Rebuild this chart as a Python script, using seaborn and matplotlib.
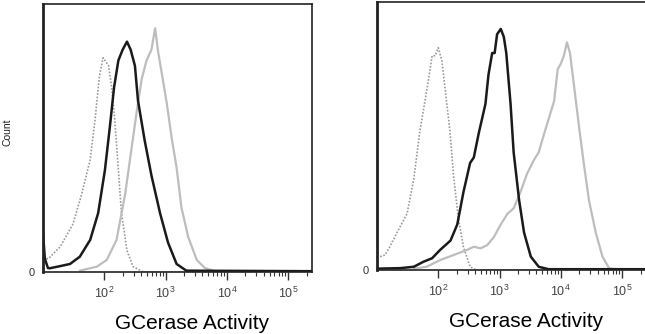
import numpy as np
import seaborn as sns
import matplotlib.pyplot as plt
from matplotlib.ticker import FixedLocator, NullFormatter

sns.set_style("white")
plt.rcParams["font.family"] = ["Liberation Sans", "DejaVu Sans"]
plt.rcParams["mathtext.default"] = "regular"

# histogram traces, x = log10(GCerase activity), y = fraction of axis height
left_ctrl_x = [1.00, 1.09, 1.28, 1.49, 1.63, 1.77, 1.85, 1.92, 1.98, 2.07, 2.12, 2.17, 2.23, 2.28, 2.37, 2.47, 2.64, 5.40]
left_ctrl_y = [0.05, 0.05, 0.094, 0.18, 0.29, 0.42, 0.57, 0.73, 0.80, 0.77, 0.69, 0.57, 0.38, 0.22, 0.08, 0.02, 0.0, 0.0]

left_dark_x = [1.00, 1.03, 1.08, 1.11, 1.28, 1.44, 1.60, 1.77, 1.90, 2.01, 2.09, 2.16, 2.23, 2.30, 2.37, 2.43, 2.50,
               2.55, 2.66, 2.77, 2.91, 3.04, 3.18, 3.34, 5.40]
left_dark_y = [0.145, 0.05, 0.015, 0.014, 0.022, 0.03, 0.057, 0.12, 0.22, 0.38, 0.54, 0.69, 0.79, 0.83, 0.86, 0.83, 0.77,
               0.64, 0.49, 0.36, 0.22, 0.11, 0.03, 0.005, 0.003]

left_light_x = [1.60, 1.88, 2.04, 2.20, 2.34, 2.45, 2.53, 2.61, 2.69, 2.77, 2.83, 2.88, 2.94, 3.02, 3.10, 3.18, 3.26,
                3.37, 3.51, 3.64, 3.80, 5.40]
left_light_y = [0.005, 0.02, 0.045, 0.12, 0.29, 0.47, 0.60, 0.72, 0.79, 0.83, 0.91, 0.82, 0.74, 0.63, 0.50, 0.39, 0.24,
                0.13, 0.045, 0.015, 0.003, 0.003]

right_ctrl_x = [1.05, 1.13, 1.21, 1.32, 1.49, 1.60, 1.70, 1.76, 1.84, 1.90, 1.95, 2.00, 2.06, 2.11, 2.19, 2.25, 2.33,
                2.41, 2.52, 2.62, 5.40]
right_ctrl_y = [0.05, 0.056, 0.087, 0.137, 0.21, 0.34, 0.52, 0.60, 0.71, 0.80, 0.80, 0.83, 0.78, 0.68, 0.52, 0.35, 0.19,
                0.087, 0.012, 0.0, 0.0]

right_dark_x = [1.00, 1.38, 1.60, 1.76, 1.90, 2.03, 2.20, 2.31, 2.41, 2.52, 2.58, 2.66, 2.77, 2.82, 2.88, 2.92, 2.96,
                3.02, 3.07, 3.11, 3.18, 3.23, 3.32, 3.40, 3.51, 3.64, 3.80, 5.40]
right_dark_y = [0.005, 0.007, 0.012, 0.031, 0.044, 0.075, 0.11, 0.17, 0.29, 0.40, 0.42, 0.51, 0.62, 0.73, 0.81, 0.81,
                0.88, 0.90, 0.87, 0.81, 0.62, 0.44, 0.26, 0.14, 0.05, 0.012, 0.003, 0.003]

right_light_x = [1.60, 1.81, 2.03, 2.25, 2.47, 2.58, 2.69, 2.80, 2.91, 3.02, 3.13, 3.23, 3.34, 3.45, 3.56, 3.64, 3.73,
                 3.81, 3.89, 3.95, 4.00, 4.05, 4.10, 4.15, 4.22, 4.30, 4.38, 4.46, 4.57, 4.68, 4.79, 4.95, 5.40]
right_light_y = [0.005, 0.012, 0.037, 0.056, 0.075, 0.087, 0.081, 0.093, 0.124, 0.17, 0.21, 0.23, 0.29, 0.36, 0.41,
                 0.44, 0.51, 0.57, 0.63, 0.75, 0.77, 0.80, 0.85, 0.81, 0.68, 0.53, 0.39, 0.26, 0.14, 0.05, 0.006,
                 0.002, 0.002]

major_exp = [2, 3, 4, 5]
tick_labels = ["10$^2$", "10$^3$", "10$^4$", "10$^5$"]
x_label = "GCerase Activity"

panels = [
    ([0.0667, 0.1856, 0.417, 0.802], (left_ctrl_x, left_ctrl_y), (left_dark_x, left_dark_y),
     (left_light_x, left_light_y), True),
    ([0.5845, 0.1916, 0.417, 0.802], (right_ctrl_x, right_ctrl_y), (right_dark_x, right_dark_y),
     (right_light_x, right_light_y), False),
]

fig = plt.figure(figsize=(6.45, 3.34), dpi=100)

for rect, ctrl, dark, light, show_count in panels:
    ax = fig.add_axes(rect)
    sns.lineplot(x=10 ** np.array(ctrl[0]), y=ctrl[1], ax=ax, color="#9a9a9a", lw=1.2,
                 linestyle=(0, (1, 1)), estimator=None)
    sns.lineplot(x=10 ** np.array(light[0]), y=light[1], ax=ax, color="#bdbdbd", lw=1.6, estimator=None)
    sns.lineplot(x=10 ** np.array(dark[0]), y=dark[1], ax=ax, color="#1a1a1a", lw=1.8, estimator=None)

    ax.set_xscale("log")
    ax.set_xlim(10 ** 1.0, 10 ** 5.39)
    ax.set_ylim(0, 1)

    minors = [m * 10 ** e for e in [2, 3, 4] for m in range(2, 10)] + [2e5]
    ax.xaxis.set_major_locator(FixedLocator([10 ** e for e in major_exp]))
    ax.xaxis.set_minor_locator(FixedLocator(minors))
    ax.xaxis.set_minor_formatter(NullFormatter())
    ax.set_xticklabels(tick_labels)
    ax.tick_params(axis="x", which="major", direction="out", length=6, width=1, color="#333333",
                   labelsize=9, labelcolor="#444444", pad=4, bottom=True)
    ax.tick_params(axis="x", which="minor", direction="out", length=3, width=0.8, color="#333333", bottom=True)

    ax.set_yticks([0])
    ax.set_yticklabels(["0"])
    ax.tick_params(axis="y", length=0, labelsize=8, labelcolor="#333333", pad=6)

    for name, sp in ax.spines.items():
        sp.set_color("#222222")
        sp.set_linewidth(1.2)
    ax.spines["left"].set_linewidth(2.0)

    ax.set_xlabel(x_label, fontsize=15, color="black")
    ax.xaxis.set_label_coords(0.555, -0.155)
    if show_count:
        ax.set_ylabel("Count", fontsize=7.5, color="#222222")
        ax.yaxis.set_label_coords(-0.115, 0.52)
    else:
        ax.set_ylabel("")

fig.savefig("out.png", dpi=100)
